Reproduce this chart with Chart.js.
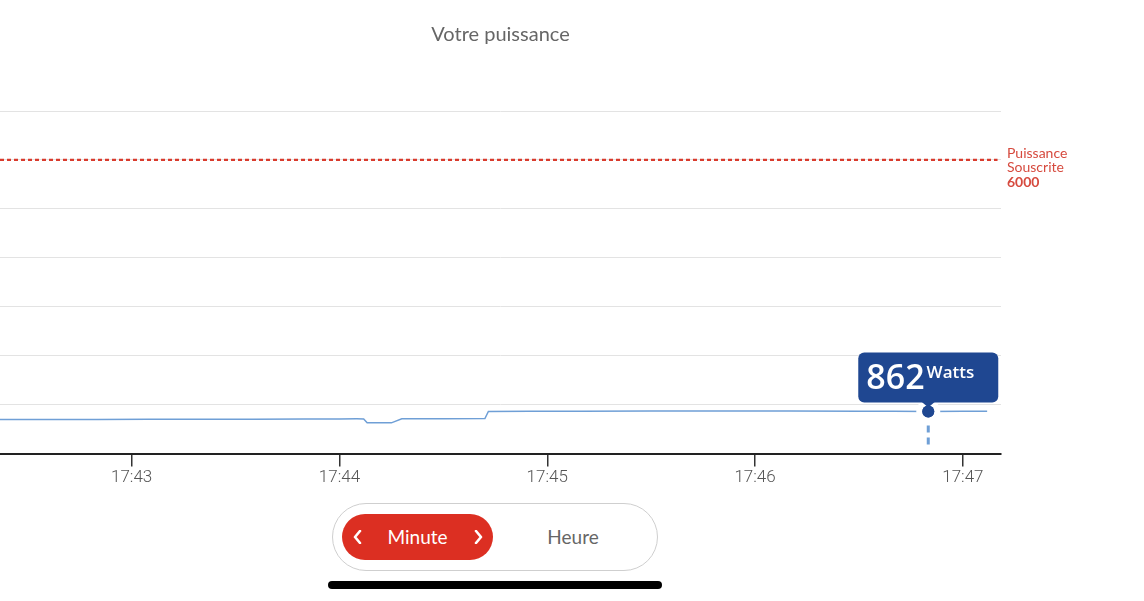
<!DOCTYPE html>
<html lang="fr">
<head>
<meta charset="utf-8">
<title>Votre puissance</title>
<script src="https://cdn.jsdelivr.net/npm/chart.js@4.4.1/dist/chart.umd.min.js"></script>
<style>
  html, body { margin: 0; padding: 0; background: #fff; }
  body { width: 1144px; height: 601px; position: relative; overflow: hidden; font-family: Lato, 'Noto Sans', sans-serif; }
  #chart-wrap { position: absolute; left: 0; top: 0; width: 1144px; height: 500px; }
  .switch {
    position: absolute; left: 332px; top: 503px; width: 326px; height: 68px;
    border: 1.5px solid #cfcfcf; border-radius: 34px; box-sizing: border-box;
  }
  .switch .active {
    position: absolute; left: 9px; top: 10px; width: 151px; height: 46px;
    background: #dc2f22; border-radius: 23px; color: #fff;
    font-size: 19px; line-height: 46px; text-align: center;
  }
  .switch .active svg { position: absolute; top: 16px; }
  .switch .other {
    position: absolute; left: 180px; top: 10px; width: 120px; height: 46px;
    color: #666; font-size: 19px; line-height: 46px; text-align: center;
  }
  .home-bar {
    position: absolute; left: 328px; top: 581px; width: 334px; height: 8px;
    background: #000; border-radius: 4px;
  }
</style>
</head>
<body>
<div id="chart-wrap"><canvas id="power-chart"></canvas></div>

<div class="switch">
  <div class="active">
    <svg style="left:11px" width="9" height="14" viewBox="0 0 9 14"><polyline points="7,1 2,7 7,13" fill="none" stroke="#fff" stroke-width="2.6" stroke-linecap="round" stroke-linejoin="round"/></svg>
    Minute
    <svg style="right:10px" width="9" height="14" viewBox="0 0 9 14"><polyline points="2,1 7,7 2,13" fill="none" stroke="#fff" stroke-width="2.6" stroke-linecap="round" stroke-linejoin="round"/></svg>
  </div>
  <div class="other">Heure</div>
</div>
<div class="home-bar"></div>

<script>
// readings (time of day, watts)
const TIMES = [
    '17:42:22', '17:42:35', '17:42:50', '17:43:05', '17:43:20', '17:43:35',
    '17:43:50', '17:44:00', '17:44:05', '17:44:07', '17:44:08', '17:44:14',
    '17:44:15', '17:44:18', '17:44:30', '17:44:42', '17:44:43', '17:44:55',
    '17:45:10', '17:45:30', '17:45:50', '17:46:10', '17:46:30', '17:46:40',
    '17:46:50', '17:47:00', '17:47:07',
];
const WATTS = [
    695, 697, 698, 700, 701, 703,
    705, 708, 710, 708, 630, 628,
    628, 712, 713, 715, 860, 864,
    866, 868, 869, 868, 866, 864,
    862, 863, 863,
];
const TICK_LABELS    = ['17:43', '17:44', '17:45', '17:46', '17:47'];
const X_RANGE        = ['17:42:22', '17:47:11'];
const Y_TICKS        = [0, 1000, 2000, 3000, 4000, 5000, 6000, 7000];
const SUBSCRIBED     = 6000;
const SUBSCRIBED_TXT = ['Puissance', 'Souscrite'];
const HIGHLIGHT_TIME = '17:46:50';
const UNIT           = 'Watts';

const toSec = t => {
    const [h, m, s = 0] = t.split(':').map(Number);
    return h * 3600 + m * 60 + s;
};
const pad2 = n => String(n).padStart(2, '0');
const fmtTime = v => `${Math.floor(v / 3600)}:${pad2(Math.floor(v / 60) % 60)}`;

const points    = TIMES.map((t, i) => ({ x: toSec(t), y: WATTS[i] }));
const hiIndex   = TIMES.indexOf(HIGHLIGHT_TIME);
const xMin      = toSec(X_RANGE[0]);
const xMax      = toSec(X_RANGE[1]);

const BLUE_DARK = '#1f4791';
const BLUE_LINE = '#6f9fd6';
const RED       = '#d93b2d';

// callout above the highlighted reading + subscribed power label
const overlayPlugin = {
    id: 'overlay',
    afterDatasetsDraw(chart) {
        const { ctx, chartArea, scales } = chart;
        const el = chart.getDatasetMeta(0).data[hiIndex];
        const value = WATTS[hiIndex];
        ctx.save();

        // dashed drop line
        ctx.strokeStyle = BLUE_LINE;
        ctx.lineWidth = 3;
        ctx.setLineDash([7, 5]);
        ctx.beginPath();
        ctx.moveTo(el.x, el.y + 14);
        ctx.lineTo(el.x, chartArea.bottom - 5);
        ctx.stroke();
        ctx.setLineDash([]);

        // box
        const w = 140, h = 50;
        const bx = el.x - w / 2, by = el.y - 9 - h;
        ctx.fillStyle = BLUE_DARK;
        ctx.beginPath();
        ctx.roundRect(bx, by, w, h, 6);
        ctx.fill();
        ctx.beginPath();
        ctx.moveTo(el.x - 7, by + h - 1);
        ctx.lineTo(el.x + 7, by + h - 1);
        ctx.lineTo(el.x, by + h + 5);
        ctx.closePath();
        ctx.fill();
        ctx.beginPath();
        ctx.arc(el.x, el.y, 6, 0, Math.PI * 2);
        ctx.fill();

        ctx.fillStyle = '#fff';
        ctx.textBaseline = 'alphabetic';
        ctx.textAlign = 'left';
        ctx.font = "600 34px 'Open Sans', Lato, sans-serif";
        const num = String(value);
        ctx.fillText(num, bx + 8, by + 37);
        const numW = ctx.measureText(num).width;
        ctx.font = "600 17px 'Open Sans', Lato, sans-serif";
        ctx.fillText(UNIT, bx + 10 + numW, by + 26);

        // subscribed power label
        const yS = scales.y.getPixelForValue(SUBSCRIBED);
        const lx = chartArea.right + 6;
        ctx.fillStyle = '#d64a3e';
        ctx.font = "14px Lato, 'Noto Sans', sans-serif";
        ctx.textBaseline = 'middle';
        ctx.fillText(SUBSCRIBED_TXT[0], lx, yS - 6);
        ctx.fillText(SUBSCRIBED_TXT[1], lx, yS + 8);
        ctx.font = "bold 14px Lato, 'Noto Sans', sans-serif";
        ctx.fillText(String(SUBSCRIBED), lx, yS + 23);
        ctx.restore();
    },
};

new Chart(document.getElementById('power-chart'), {
    type: 'line',
    data: {
        datasets: [
            {
                label: 'Puissance',
                data: points,
                borderColor: BLUE_LINE,
                borderWidth: 1.5,
                tension: 0,
                pointRadius: c => (c.dataIndex === hiIndex ? 9 : 0),
                pointBackgroundColor: BLUE_DARK,
                pointBorderColor: '#fff',
                pointBorderWidth: 6,
                fill: false,
            },
            {
                label: 'Puissance Souscrite',
                data: [{ x: xMin, y: SUBSCRIBED }, { x: xMax - 1, y: SUBSCRIBED }],
                borderColor: RED,
                borderWidth: 2.2,
                borderDash: [4, 3],
                pointRadius: 0,
                fill: false,
            },
        ],
    },
    options: {
        responsive: true,
        maintainAspectRatio: false,
        animation: false,
        events: [],
        layout: { padding: { left: 0, right: 143, top: 0, bottom: 11 } },
        scales: {
            x: {
                type: 'linear',
                min: xMin,
                max: xMax,
                afterBuildTicks: axis => { axis.ticks = TICK_LABELS.map(t => ({ value: toSec(t) })); },
                ticks: {
                    callback: v => fmtTime(v),
                    font: { family: 'Roboto', size: 17, weight: 300 },
                    color: '#555',
                    padding: 1,
                    maxRotation: 0,
                },
                grid: { drawOnChartArea: false, drawTicks: true, tickLength: 13, color: '#333', lineWidth: 1.5 },
                border: { display: true, color: '#222', width: 2 },
            },
            y: {
                min: 0,
                max: 7000,
                afterBuildTicks: axis => { axis.ticks = Y_TICKS.map(v => ({ value: v })); },
                ticks: { display: false },
                grid: { color: '#e3e3e3', lineWidth: 1, drawTicks: false },
                border: { display: false },
            },
        },
        plugins: {
            legend: { display: false },
            tooltip: { enabled: false },
            title: {
                display: true,
                text: 'Votre puissance',
                fullSize: false,
                color: '#666',
                font: { family: 'Lato', size: 20, weight: 'normal' },
                padding: { top: 23, bottom: 64 },
            },
        },
    },
    plugins: [overlayPlugin],
});
</script>
</body>
</html>
